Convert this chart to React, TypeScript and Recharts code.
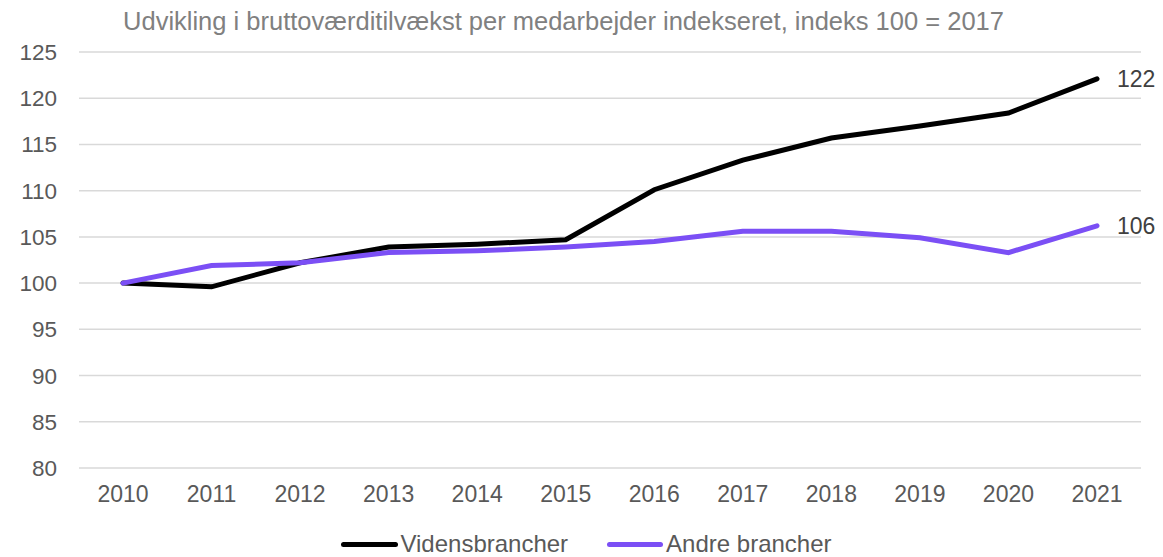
import React from "react";
import { LineChart, Line, XAxis, YAxis, CartesianGrid, Legend, LabelList } from "recharts";

const years = ["2010", "2011", "2012", "2013", "2014", "2015", "2016", "2017", "2018", "2019", "2020", "2021"];
const videns = [100, 99.6, 102.2, 103.9, 104.2, 104.7, 110.1, 113.3, 115.7, 117.0, 118.4, 122.1];
const andre = [100, 101.9, 102.2, 103.3, 103.5, 103.9, 104.5, 105.6, 105.6, 104.9, 103.3, 106.2];
const yTicks = [80, 85, 90, 95, 100, 105, 110, 115, 120, 125];
const title = "Udvikling i bruttoværditilvækst per medarbejder indekseret, indeks 100 = 2017";

const data = years.map((y, i) => ({ year: y, videns: videns[i], andre: andre[i] }));

const FONT = "'Liberation Sans', Arial, sans-serif";
const BLACK = "#000000";
const PURPLE = "#7b4ff5";

const endLabel = (key: "videns" | "andre") => (props: any) => {
  const { x, y, index } = props;
  if (index !== years.length - 1) return null;
  const v = key === "videns" ? videns[index] : andre[index];
  return (
    <text x={x + 20} y={y} dy="0.35em" fill="#404040" fontSize={23} fontFamily={FONT}>
      {Math.round(v)}
    </text>
  );
};

const LegendContent = () => (
  <div style={{ display: "flex", justifyContent: "center", paddingLeft: 32, fontFamily: FONT, fontSize: 24, color: "#595959", lineHeight: "26px" }}>
    <div style={{ display: "flex", alignItems: "center", marginRight: 39 }}>
      <span style={{ display: "inline-block", width: 57, height: 5, borderRadius: 3, background: BLACK, marginRight: 2 }} />
      <span>Vidensbrancher</span>
    </div>
    <div style={{ display: "flex", alignItems: "center" }}>
      <span style={{ display: "inline-block", width: 56, height: 5, borderRadius: 3, background: PURPLE, marginRight: 3 }} />
      <span>Andre brancher</span>
    </div>
  </div>
);

export default function App() {
  return (
    <div style={{ position: "absolute", left: 0, top: 0, width: 1163, height: 557, background: "#fff" }}>
      <div
        style={{
          position: "absolute",
          top: 6,
          left: 0,
          width: 1127,
          textAlign: "center",
          fontFamily: FONT,
          fontSize: 25.5,
          lineHeight: "30px",
          color: "#808080",
          whiteSpace: "nowrap",
        }}
      >
        {title}
      </div>
      <LineChart width={1163} height={557} data={data} margin={{ top: 52, right: 22, bottom: 0, left: 0 }}>
        <CartesianGrid horizontal vertical={false} stroke="#d9d9d9" strokeWidth={1.5} />
        <XAxis
          dataKey="year"
          axisLine={false}
          tickLine={false}
          tickMargin={12}
          height={63}
          padding={{ left: 44, right: 44 }}
          tick={{ fill: "#595959", fontSize: 23, fontFamily: FONT }}
          interval={0}
        />
        <YAxis
          domain={[80, 125]}
          ticks={yTicks}
          axisLine={false}
          tickLine={false}
          tickMargin={16}
          width={79}
          tick={{ fill: "#595959", fontSize: 22.5, fontFamily: FONT }}
        />
        <Legend verticalAlign="bottom" content={<LegendContent />} wrapperStyle={{ bottom: 0 }} />
        <Line type="linear" dataKey="videns" stroke={BLACK} strokeWidth={5} dot={false} isAnimationActive={false} strokeLinecap="round">
          <LabelList dataKey="videns" content={endLabel("videns")} />
        </Line>
        <Line type="linear" dataKey="andre" stroke={PURPLE} strokeWidth={5} dot={false} isAnimationActive={false} strokeLinecap="round">
          <LabelList dataKey="andre" content={endLabel("andre")} />
        </Line>
      </LineChart>
    </div>
  );
}
